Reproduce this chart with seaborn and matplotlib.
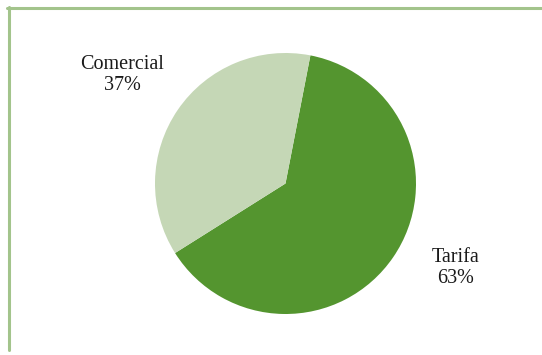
import matplotlib
matplotlib.use("Agg")
import matplotlib.pyplot as plt
from matplotlib.lines import Line2D
import seaborn as sns

categories = ["Tarifa", "Comercial"]
values = [63, 37]
label_texts = ["Tarifa\n63%", "Comercial\n37%"]

sns.set_theme(style="white")
plt.rcParams['font.family'] = ['Liberation Serif', 'DejaVu Serif']

W, H = 542, 355
fig = plt.figure(figsize=(W / 100, H / 100), dpi=100)
ax = fig.add_axes([0, 0, 1, 1])

colors = ["#54952f", "#c5d7b6"]
ax.pie(values, colors=colors, startangle=79, counterclock=False,
       center=(285.5, H - 183.5), radius=130.5,
       wedgeprops=dict(linewidth=0, edgecolor="none"), frame=True)
ax.set_xlim(0, W)
ax.set_ylim(0, H)
ax.set_aspect("equal")
ax.axis("off")

label_pos = [(456, H - 268), (122, H - 75)]
for txt, (x, y) in zip(label_texts, label_pos):
    ax.text(x, y, txt, ha="center", va="center", fontsize=14.5,
            color="#1a1a1a", linespacing=1.15)

border = "#a3c48c"
fig.add_artist(Line2D([7 / W, 1], [1 - 7.5 / H, 1 - 7.5 / H], color=border, lw=2.2,
                      transform=fig.transFigure))
fig.add_artist(Line2D([8.5 / W, 8.5 / W], [1 - 7 / H, 1 - 350 / H], color=border, lw=2.2,
                      transform=fig.transFigure))

fig.savefig("out.png", dpi=100, facecolor="white")
